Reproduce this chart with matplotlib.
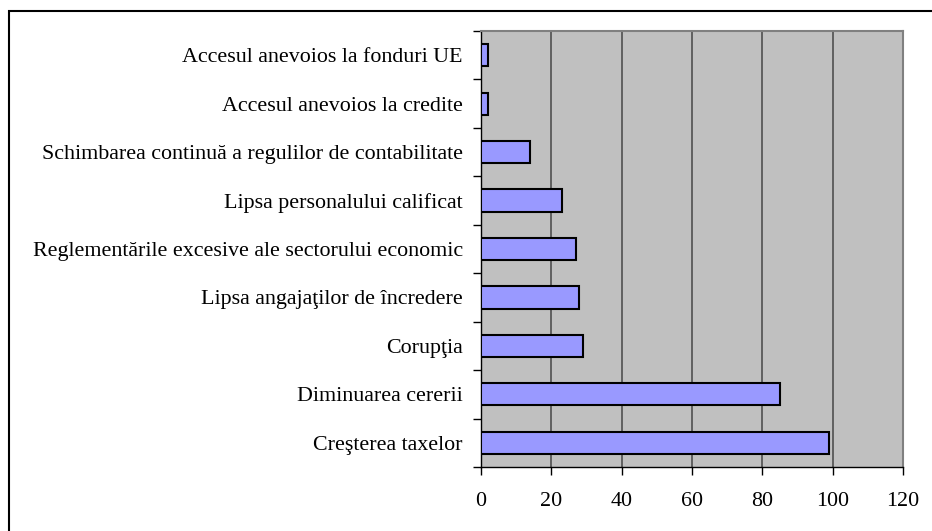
import matplotlib.pyplot as plt
from matplotlib.patches import Rectangle
from matplotlib.ticker import FixedLocator

plt.rcParams['font.family'] = ['Liberation Serif', 'DejaVu Serif']

# categories listed bottom to top
categories = [
    "Creşterea taxelor",
    "Diminuarea cererii",
    "Corupţia",
    "Lipsa angajaţilor de încredere",
    "Reglementările excesive ale sectorului economic",
    "Lipsa personalului calificat",
    "Schimbarea continuă a regulilor de contabilitate",
    "Accesul anevoios la credite",
    "Accesul anevoios la fonduri UE",
]
values = [99, 85, 29, 28, 27, 23, 14, 2, 2]
x_ticks = [0, 20, 40, 60, 80, 100, 120]

fs = 15.8

fig = plt.figure(figsize=(9.32, 5.31), dpi=100)
# outer chart frame (runs off the right and bottom edges)
fig.patches.append(Rectangle((9 / 932, -0.05), 1.0, 1 - 11 / 531 + 0.05,
                             transform=fig.transFigure, fill=False,
                             edgecolor='black', linewidth=1.5))

ax = fig.add_axes([481 / 932, 1 - 467 / 531, 422 / 932, 436 / 531])
ax.set_facecolor('#c0c0c0')

pos = range(len(categories))
ax.barh(pos, values, height=0.46, color='#9999ff', edgecolor='black',
        linewidth=1.5, zorder=3)

ax.set_xlim(0, 120)
ax.set_ylim(-0.5, len(categories) - 0.5)
ax.set_xticks(x_ticks)
ax.set_xticklabels([str(t) for t in x_ticks], fontsize=fs)
ax.grid(axis='x', color='#505050', linewidth=1.2, zorder=1)

# labels at category centers, ticks at boundaries
ax.set_yticks(list(pos))
ax.set_yticklabels(categories, fontsize=fs)
ax.tick_params(axis='y', which='major', length=0, pad=13)
ax.yaxis.set_minor_locator(FixedLocator([i - 0.5 for i in range(len(categories) + 1)]))
ax.tick_params(axis='y', which='minor', length=6, width=1, direction='out')
ax.tick_params(axis='x', length=6, width=1, direction='out', pad=12)

for side in ['top', 'right']:
    ax.spines[side].set_color('#808080')
    ax.spines[side].set_linewidth(1.5)
for side in ['left', 'bottom']:
    ax.spines[side].set_color('black')
    ax.spines[side].set_linewidth(1)

fig.savefig('out.png', dpi=100)
